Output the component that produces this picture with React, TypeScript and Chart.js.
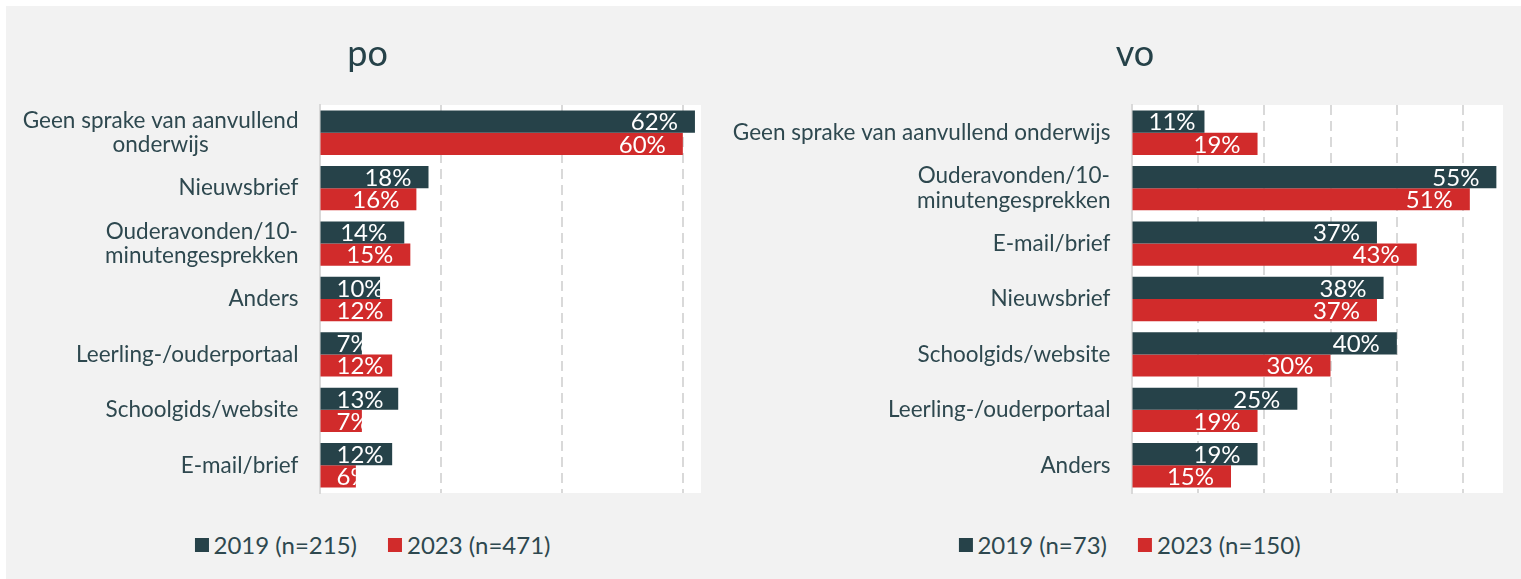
import React, { useEffect, useRef } from 'react';
import { Chart, registerables } from 'chart.js';

Chart.register(...registerables);

// ---------- data ----------
const poCategories: (string | string[])[] = [
  ['Geen sprake van aanvullend', 'onderwijs'],
  'Nieuwsbrief',
  ['Ouderavonden/10-', 'minutengesprekken'],
  'Anders',
  'Leerling-/ouderportaal',
  'Schoolgids/website',
  'E-mail/brief',
];
const po2019 = [62, 18, 14, 10, 7, 13, 12];
const po2023 = [60, 16, 15, 12, 12, 7, 6];

const voCategories: (string | string[])[] = [
  'Geen sprake van aanvullend onderwijs',
  ['Ouderavonden/10-', 'minutengesprekken'],
  'E-mail/brief',
  'Nieuwsbrief',
  'Schoolgids/website',
  'Leerling-/ouderportaal',
  'Anders',
];
const vo2019 = [11, 55, 37, 38, 40, 25, 19];
const vo2023 = [19, 51, 43, 37, 30, 19, 15];

const poSeriesNames = ['2019 (n=215)', '2023 (n=471)'];
const voSeriesNames = ['2019 (n=73)', '2023 (n=150)'];

const poAxisMax = 63;
const voAxisMax = 56;
const poStep = 20;
const voStep = 10;

// ---------- styles ----------
const DARK = '#264249';
const RED = '#D12B2B';
const TEXT = '#2E484F';
const GRID = '#D9D9D9';
const FONT = 'Lato';

type PanelProps = {
  title: string;
  categories: (string | string[])[];
  s1: number[];
  s2: number[];
  names: string[];
  max: number;
  step: number;
  left: number;
  width: number;
  height: number;
  yAxisWidth: number;
  padSide: number;
  legendCx: number;
  legendCy: number;
};

function BarPanel(p: PanelProps) {
  const ref = useRef<HTMLCanvasElement | null>(null);

  useEffect(() => {
    if (!ref.current) return;
    const plotBg = {
      id: 'plotBg',
      beforeDraw(chart: any) {
        const { ctx, chartArea: a } = chart;
        ctx.save();
        ctx.fillStyle = '#ffffff';
        ctx.fillRect(a.left, a.top, a.right - a.left, a.bottom - a.top);
        ctx.restore();
      },
    };
    const yLabels = {
      id: 'yLabels',
      afterDraw(chart: any) {
        const { ctx, chartArea: a } = chart;
        const ys = chart.scales.y;
        ctx.save();
        ctx.font = `22.5px ${FONT}`;
        ctx.fillStyle = TEXT;
        ctx.textBaseline = 'middle';
        ctx.textAlign = 'center';
        p.categories.forEach((lab, i) => {
          const lines = Array.isArray(lab) ? lab : [lab];
          const yc = ys.getPixelForValue(i);
          let maxW = 0;
          lines.forEach((ln) => {
            maxW = Math.max(maxW, ctx.measureText(ln).width);
          });
          const cx = a.left - 21 - maxW / 2;
          lines.forEach((ln, j) => {
            const ly = yc + (j - (lines.length - 1) / 2) * 24.5;
            ctx.fillText(ln, cx, ly);
          });
        });
        ctx.restore();
      },
    };
    const valueLabels = {
      id: 'valueLabels',
      afterDatasetsDraw(chart: any) {
        const { ctx, chartArea: a } = chart;
        ctx.save();
        ctx.font = `24px ${FONT}`;
        ctx.fillStyle = '#ffffff';
        ctx.textBaseline = 'middle';
        ctx.textAlign = 'left';
        chart.data.datasets.forEach((ds: any, di: number) => {
          const meta = chart.getDatasetMeta(di);
          meta.data.forEach((bar: any, i: number) => {
            const { x, y, base, height } = bar.getProps(['x', 'y', 'base', 'height'], true);
            const text = `${ds.data[i]}%`;
            const w = ctx.measureText(text).width;
            let lx = x - 17 - w;
            if (lx < a.left + 17) lx = a.left + 17;
            ctx.save();
            ctx.beginPath();
            ctx.rect(base, y - height / 2, x - base, height);
            ctx.clip();
            ctx.fillText(text, lx, y + 1);
            ctx.restore();
          });
        });
        ctx.restore();
      },
    };

    const chart = new Chart(ref.current, {
      type: 'bar',
      data: {
        labels: p.categories as any,
        datasets: [
          {
            label: p.names[0],
            data: p.s1,
            backgroundColor: DARK,
            borderWidth: 0,
            categoryPercentage: 0.8,
            barPercentage: 1,
          },
          {
            label: p.names[1],
            data: p.s2,
            backgroundColor: RED,
            borderWidth: 0,
            categoryPercentage: 0.8,
            barPercentage: 1,
          },
        ],
      },
      options: {
        indexAxis: 'y',
        animation: false,
        responsive: false,
        maintainAspectRatio: false,
        layout: { padding: { left: p.padSide, right: p.padSide, top: 0, bottom: 3 } },
        plugins: {
          legend: { display: false },
          tooltip: { enabled: false },
          title: {
            display: true,
            text: p.title,
            color: DARK,
            font: { family: FONT, size: 36, weight: 'normal' as any },
            padding: { top: 26.4, bottom: 29.4 },
          },
        },
        scales: {
          x: {
            type: 'linear',
            min: 0,
            max: p.max,
            position: 'bottom',
            ticks: { display: false, stepSize: p.step, includeBounds: false } as any,
            grid: {
              color: (c: any) => (c.tick && c.tick.value === 0 ? 'rgba(0,0,0,0)' : GRID),
              lineWidth: 2,
              drawTicks: false,
            },
            border: { display: false, dash: [10, 6] },
            afterFit: (s: any) => {
              s.height = 0;
            },
          },
          y: {
            type: 'category',
            ticks: { display: false },
            grid: { display: false, drawTicks: false },
            border: { display: true, color: GRID, width: 2 },
            afterFit: (s: any) => {
              s.width = p.yAxisWidth;
            },
          },
        },
      },
      plugins: [plotBg, yLabels, valueLabels],
    });
    return () => chart.destroy();
  }, []);

  const sq = (c: string): React.CSSProperties => ({
    display: 'inline-block',
    width: 14,
    height: 14,
    background: c,
    marginRight: 5,
    flex: '0 0 auto',
  });

  return (
    <>
      <canvas
        ref={ref}
        width={p.width}
        height={p.height}
        style={{ position: 'absolute', left: p.left, top: 0, width: p.width, height: p.height, display: 'block' }}
      />
      <div
        style={{
          position: 'absolute',
          left: p.legendCx,
          top: p.legendCy,
          transform: 'translate(-50%, -50%)',
          display: 'flex',
          alignItems: 'center',
          whiteSpace: 'nowrap',
          fontFamily: FONT,
          fontSize: 24,
          lineHeight: '28px',
          color: TEXT,
        }}
      >
        <span style={sq(DARK)} />
        <span>{p.names[0]}</span>
        <span style={{ ...sq(RED), marginLeft: 31 }} />
        <span>{p.names[1]}</span>
      </div>
    </>
  );
}

export default function App() {
  return (
    <div
      style={{
        position: 'absolute',
        left: 6,
        top: 6,
        right: 0,
        bottom: 0,
        background: '#F2F2F2',
        overflow: 'hidden',
      }}
    >
      <BarPanel
        title="po"
        categories={poCategories}
        s1={po2019}
        s2={po2023}
        names={poSeriesNames}
        max={poAxisMax}
        step={poStep}
        left={0}
        width={723}
        height={490}
        yAxisWidth={285.5}
        padSide={28}
        legendCx={366.5}
        legendCy={539}
      />
      <BarPanel
        title="vo"
        categories={voCategories}
        s1={vo2019}
        s2={vo2023}
        names={voSeriesNames}
        max={voAxisMax}
        step={voStep}
        left={723}
        width={812}
        height={490}
        yAxisWidth={364.5}
        padSide={38}
        legendCx={1123.5}
        legendCy={539}
      />
    </div>
  );
}
